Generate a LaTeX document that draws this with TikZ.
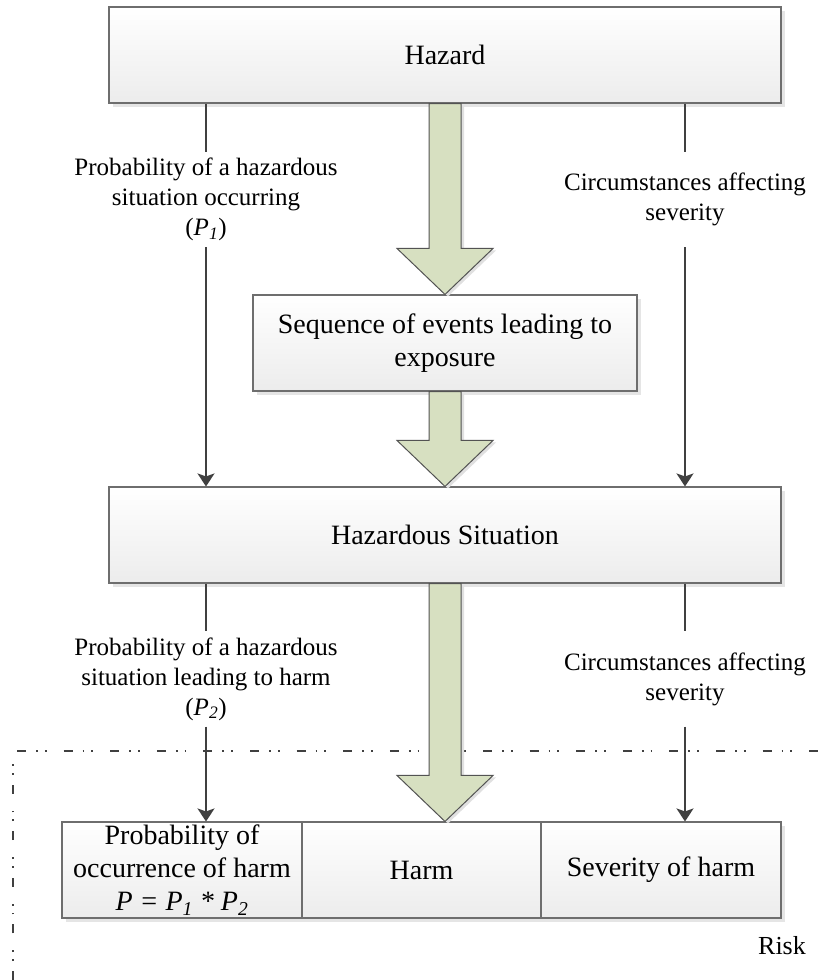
\documentclass[tikz,border=0pt]{standalone}
\usepackage{fontspec}
\setmainfont{Liberation Serif}
\usetikzlibrary{arrows.meta,calc,shadows}

\definecolor{boxline}{HTML}{6E6E6E}
\definecolor{boxbottom}{HTML}{ECECEC}
\definecolor{arrowgreen}{HTML}{D7E0C1}
\definecolor{linegray}{HTML}{404040}

\tikzset{
  box/.style={draw=boxline, line width=1.1pt, top color=white, bottom color=boxbottom,
    drop shadow={shadow xshift=4pt, shadow yshift=-4pt, fill=black!10, opacity=1},
    inner sep=0pt, align=center, font=\fontsize{28}{33}\selectfont},
  sidelabel/.style={inner sep=0pt, align=center, minimum height=95pt, font=\fontsize{25}{30}\selectfont},
  sideline/.style={draw=linegray, line width=2pt},
  sidearrow/.style={sideline, -{Stealth[length=13pt,width=17pt,inset=3pt]}},
  fatarr/.style={draw=linegray!90, line width=1pt, fill=arrowgreen, line join=miter,
    drop shadow={shadow xshift=3pt, shadow yshift=-2pt, fill=black!12, opacity=1}},
  riskline/.style={draw=linegray, line width=1.8pt,
    dash pattern=on 9pt off 10pt on 1.8pt off 7pt on 1.8pt off 17pt}
}

\newcommand{\fatarrow}[2]{%
  \draw[fatarr] ($(#1)+(-16,0)$) -- ($(#2)+(-16,-46)$) -- ($(#2)+(-48,-46)$) -- (#2)
    -- ($(#2)+(48,-46)$) -- ($(#2)+(16,-46)$) -- ($(#1)+(16,0)$) -- cycle;}

\newcommand{\probsub}[1]{\textit{P}\textsubscript{\textit{#1}}}

\begin{document}
\begin{tikzpicture}[x=1pt,y=-1pt]
\useasboundingbox (0,0) rectangle (820,980);

\draw[riskline] (13,980) -- (13,751) -- (820,751);

\node[box, minimum width=672pt, minimum height=96pt] (hazard) at (445,55) {Hazard};
\node[box, minimum width=384pt, minimum height=96pt] (seq) at (445,343) {Sequence of events leading to\\exposure};
\node[box, minimum width=672pt, minimum height=96pt] (sit) at (445,535) {Hazardous Situation};
\node[box, minimum width=240pt, minimum height=96pt] (prob) at (182,870) {Probability of\\occurrence of harm\\\textit{P = P\textsubscript{1} * P\textsubscript{2}}};
\node[box, minimum width=239pt, minimum height=96pt] (harm) at (421.5,870) {Harm};
\node[box, minimum width=240pt, minimum height=96pt] (sev) at (661,870) {Severity of harm};

\node[sidelabel] (p1) at (206,199.5) {Probability of a hazardous\\situation occurring\\(\probsub{1})};
\node[sidelabel] (c1) at (685,199.5) {Circumstances affecting\\severity};
\node[sidelabel] (p2) at (206,679) {Probability of a hazardous\\situation leading to harm\\(\probsub{2})};
\node[sidelabel] (c2) at (685,679) {Circumstances affecting\\severity};

\node[font=\fontsize{26}{30}\selectfont, inner sep=0pt] (risk) at (782,946) {Risk};

\draw[sideline] (hazard.south -| p1) -- (p1.north);
\draw[sidearrow] (p1.south) -- (p1.south |- sit.north);
\draw[sideline] (hazard.south -| c1) -- (c1.north);
\draw[sidearrow] (c1.south) -- (c1.south |- sit.north);
\draw[sideline] (sit.south -| p2) -- (p2.north);
\draw[sidearrow] (p2.south) -- (p2.south |- prob.north);
\draw[sideline] (sit.south -| c2) -- (c2.north);
\draw[sidearrow] (c2.south) -- (c2.south |- sev.north);

\fatarrow{hazard.south}{seq.north}
\fatarrow{seq.south}{sit.north}
\fatarrow{sit.south}{sit.south |- harm.north}
\end{tikzpicture}
\end{document}
